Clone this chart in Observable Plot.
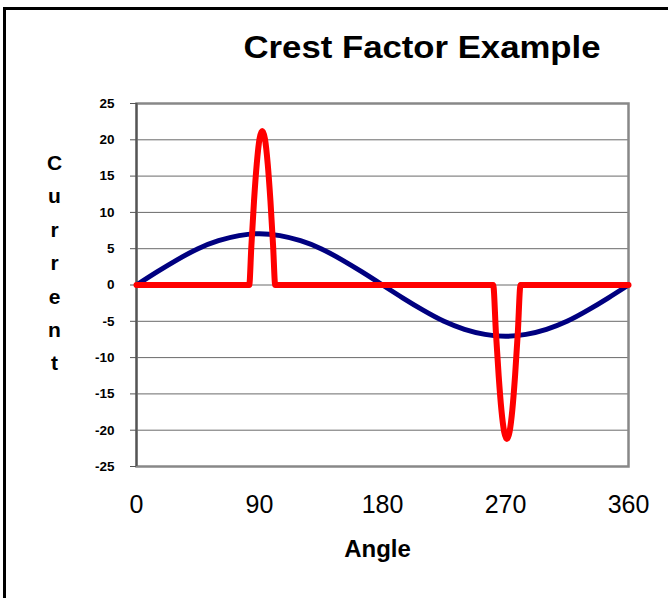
<!DOCTYPE html>
<html>
<head>
<meta charset="utf-8">
<script src="https://cdn.jsdelivr.net/npm/d3@7"></script>
<script src="https://cdn.jsdelivr.net/npm/@observablehq/plot@0.6"></script>
<style>
  html, body { margin: 0; padding: 0; background: #fff; overflow: hidden; }
  #wrap { position: relative; width: 668px; height: 598px; }
  #border { position: absolute; left: 3px; top: 7px; width: 720px; height: 720px;
            border: 3px solid #000; box-sizing: border-box; pointer-events: none; }
  svg { display: block; }
</style>
</head>
<body>
<div id="wrap"><div id="chart"></div><div id="border"></div></div>
<script>
// Blue sine-shaped current (angle, value)
const sineAngles = [0,15,30,45,60,75,90,105,120,135,150,165,180,195,210,225,240,255,270,285,300,315,330,345,360];
const sineValues = [0,1.8,3.5,5.0,6.1,6.8,7.07,6.8,6.1,5.0,3.5,1.8,0,-1.8,-3.5,-5.0,-6.1,-6.8,-7.07,-6.8,-6.1,-5.0,-3.5,-1.8,0];

// Red pulsed current (angle, value)
const pulseAngles = [0,82.5,84,86,88,90,92,94,96,98,100,101.5,261,263,265,267,269,271,273,275,277,279,281,360];
const pulseValues = [0,0,5.2,11.6,16.7,20.1,21.2,20.1,16.7,11.6,5.2,0,0,-6.6,-12.5,-17.2,-20.2,-21.2,-20.2,-17.2,-12.5,-6.6,0,0];

const xTicks = [0, 90, 180, 270, 360];
const yTicks = [-25,-20,-15,-10,-5,0,5,10,15,20,25];
const titleText = "Crest Factor Example";
const xLabel = "Angle";
const yLabel = "Current";

const sine = sineAngles.map((a, i) => ({angle: a, value: sineValues[i]}));
const pulse = pulseAngles.map((a, i) => ({angle: a, value: pulseValues[i]}));

const font = "'Liberation Sans', Arial, Helvetica, sans-serif";

const chart = Plot.plot({
  width: 668,
  height: 598,
  marginLeft: 136,
  marginRight: 40,
  marginTop: 103,
  marginBottom: 132,
  style: {fontFamily: font, color: "#000", background: "transparent", overflow: "visible"},
  x: {domain: [0, 360]},
  y: {domain: [-25, 25]},
  marks: [
    Plot.gridY(yTicks, {stroke: "#6a6a6a", strokeOpacity: 1, strokeWidth: 1}),
    Plot.frame({stroke: "#888", strokeWidth: 2.5}),
    Plot.ruleX([0], {stroke: "#555", strokeWidth: 2}),
    Plot.axisY({ticks: yTicks, tickSize: 6, tickPadding: 16, fontSize: 13.5, fontWeight: "bold",
                stroke: "#555", fill: "#000", label: null, tickFormat: d => String(d)}),
    Plot.axisX({ticks: xTicks, tickSize: 0, tickPadding: 29, fontSize: 25, fill: "#000", label: null}),
    Plot.line(sine, {x: "angle", y: "value", curve: "natural", stroke: "#000080", strokeWidth: 5}),
    Plot.line(pulse, {x: "angle", y: "value", curve: "monotone-x", stroke: "#ff0000", strokeWidth: 6, strokeLinejoin: "round"}),
    Plot.text([titleText], {frameAnchor: "top", lineAnchor: "middle", dx: 39.5, dy: -55.5, fontSize: 31, fontWeight: "bold", fill: "#000", className: "title-text"}),
    Plot.text([xLabel], {frameAnchor: "bottom", lineAnchor: "middle", dx: -5, dy: 82.5, fontSize: 24, fontWeight: "bold", fill: "#000"}),
    Plot.text([yLabel.split("").join("\n")], {frameAnchor: "left", textAnchor: "middle", lineAnchor: "middle", dx: -82, dy: -25.5, fontSize: 21, fontWeight: "bold", lineHeight: 1.59, fill: "#000"})
  ]
});

document.getElementById("chart").appendChild(chart);
d3.select(chart).selectAll("text").each(function() {
  const t = d3.select(this);
  if (!t.select("tspan").empty()) return;
  if (t.text().includes("\u2212")) t.text(t.text().replace("\u2212", "-"));
});
d3.select(chart).selectAll(".title-text text").attr("textLength", 357).attr("lengthAdjust", "spacingAndGlyphs");
</script>
</body>
</html>
